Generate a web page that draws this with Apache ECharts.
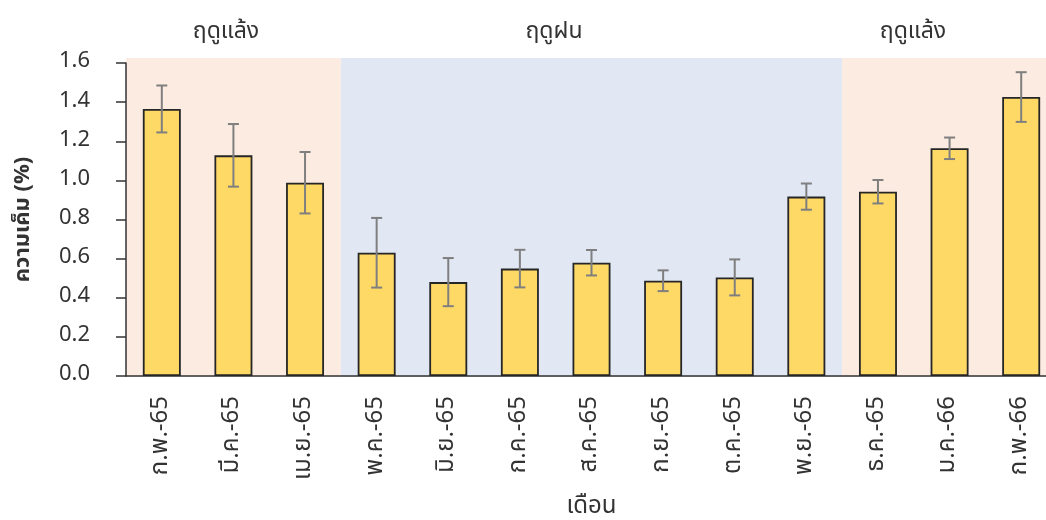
<!DOCTYPE html>
<html>
<head>
<meta charset="utf-8">
<script src="https://cdn.jsdelivr.net/npm/echarts@6/dist/echarts.min.js"></script>
<style>
  html, body { margin: 0; padding: 0; background: #fff; }
  #chart { width: 1046px; height: 520px; }
</style>
</head>
<body>
<div id="chart"></div>
<script>
// Monthly salinity (%) with standard deviation
const months = ['ก.พ.-65', 'มี.ค.-65', 'เม.ย.-65', 'พ.ค.-65', 'มิ.ย.-65', 'ก.ค.-65', 'ส.ค.-65',
                'ก.ย.-65', 'ต.ค.-65', 'พ.ย.-65', 'ธ.ค.-65', 'ม.ค.-66', 'ก.พ.-66'];
const salinity = [1.365, 1.128, 0.988, 0.63, 0.48, 0.549, 0.579, 0.487, 0.504, 0.917, 0.942, 1.164, 1.426];
const salinityErr = [0.12, 0.16, 0.157, 0.178, 0.123, 0.096, 0.065, 0.053, 0.092, 0.067, 0.06, 0.055, 0.127];

// Seasons: first month index, last month index, name
const seasonStart = [0, 3, 10];
const seasonEnd = [2, 9, 12];
const seasonNames = ['ฤดูแล้ง', 'ฤดูฝน', 'ฤดูแล้ง'];
const seasonColors = ['#FBEBE1', '#E1E7F3', '#FBEBE1'];

const yTicks = [0, 0.2, 0.4, 0.6, 0.8, 1.0, 1.2, 1.4, 1.6];

const FONT = '"Noto Sans Thai", "Noto Sans", "DejaVu Sans", sans-serif';
const TEXT = '#333333';

const chart = echarts.init(document.getElementById('chart'));

const bandData = seasonStart.map((s, i) => [s, seasonEnd[i], i]);
const errData = salinity.map((v, i) => [i, v - salinityErr[i], v + salinityErr[i]]);

const seasonLabelX = [226, 554, 913];

chart.setOption({
  animation: false,
  textStyle: { fontFamily: FONT },
  grid: { left: 126, top: 63, height: 313, width: 931, containLabel: false, outerBoundsMode: 'none' },
  xAxis: {
    type: 'category',
    data: months,
    name: 'เดือน',
    nameLocation: 'middle',
    nameGap: 120,
    nameTextStyle: { fontSize: 24, color: TEXT, fontFamily: FONT },
    axisLine: { lineStyle: { color: '#333', width: 1.5 } },
    axisTick: { length: 10, lineStyle: { color: '#333', width: 1.5 } },
    axisLabel: { rotate: 90, margin: 20, fontSize: 24, color: TEXT, fontFamily: FONT }
  },
  yAxis: {
    type: 'value',
    min: yTicks[0],
    max: yTicks[yTicks.length - 1],
    interval: 0.2,
    name: 'ความเค็ม (%)',
    nameLocation: 'middle',
    nameGap: 90,
    nameTextStyle: { fontSize: 22, fontWeight: 'bold', color: TEXT, fontFamily: FONT },
    axisLine: { show: true, lineStyle: { color: '#333', width: 1.5 } },
    axisTick: { show: true, length: 10, lineStyle: { color: '#333', width: 1.5 } },
    splitLine: { show: false },
    axisLabel: {
      margin: 36, fontSize: 22, color: TEXT, fontFamily: FONT,
      formatter: v => v.toFixed(1)
    }
  },
  series: [
    {
      // season background bands
      type: 'custom',
      z: 0,
      silent: true,
      data: bandData,
      encode: { x: [0, 1] },
      renderItem: (params, api) => {
        const cs = params.coordSys;
        const bw = api.size([1, 0])[0];
        const x0 = api.coord([api.value(0), 0])[0] - bw / 2;
        const x1 = api.coord([api.value(1), 0])[0] + bw / 2;
        const idx = api.value(2);
        return {
          type: 'rect',
          shape: { x: x0, y: cs.y - 5, width: x1 - x0, height: cs.height + 6 },
          style: { fill: seasonColors[idx] }
        };
      }
    },
    {
      type: 'bar',
      z: 2,
      data: salinity,
      barWidth: '53%',
      itemStyle: { color: '#FFD966', borderColor: '#262626', borderWidth: 1.8 }
    },
    {
      // error bars (mean ± SD)
      type: 'custom',
      z: 3,
      silent: true,
      data: errData,
      encode: { x: 0, y: [1, 2] },
      renderItem: (params, api) => {
        const lo = api.coord([api.value(0), api.value(1)]);
        const hi = api.coord([api.value(0), api.value(2)]);
        const cap = 5.5;
        const st = { stroke: '#7f7f7f', lineWidth: 2 };
        return {
          type: 'group',
          children: [
            { type: 'line', shape: { x1: lo[0], y1: lo[1], x2: hi[0], y2: hi[1] }, style: st },
            { type: 'line', shape: { x1: hi[0] - cap, y1: hi[1], x2: hi[0] + cap, y2: hi[1] }, style: st },
            { type: 'line', shape: { x1: lo[0] - cap, y1: lo[1], x2: lo[0] + cap, y2: lo[1] }, style: st }
          ]
        };
      }
    }
  ],
  graphic: seasonNames.map((name, i) => ({
    type: 'text',
    x: seasonLabelX[i],
    y: 33,
    style: {
      text: name,
      font: '23px ' + FONT,
      fill: TEXT,
      textAlign: 'center',
      textVerticalAlign: 'middle'
    }
  }))
});
</script>
</body>
</html>
